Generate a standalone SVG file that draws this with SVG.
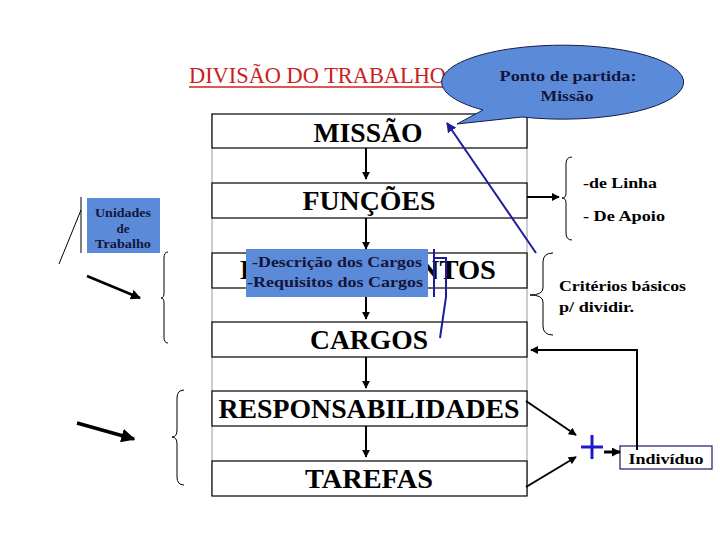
<svg xmlns="http://www.w3.org/2000/svg" width="720" height="540" viewBox="0 0 720 540">
<defs>
<style>
text{font-family:"Liberation Serif","Times New Roman","DejaVu Serif",serif}
.bx{fill:#fff;stroke:#000;stroke-width:1.2}
.bt{font-weight:bold;font-size:28px;fill:#000;text-anchor:middle}
.sm{font-weight:bold;font-size:15px;fill:#000}
.nv{font-weight:bold;fill:#14143c}
.blue{fill:#5b8bd8}
.ln{stroke:#000;fill:none}
.br{stroke:#000;fill:none;stroke-width:1}
.bl{stroke:#1c1c9c;fill:none;stroke-width:2}
</style>
<marker id="ah" viewBox="0 0 10 10" refX="9" refY="5" markerWidth="4" markerHeight="4" orient="auto" markerUnits="strokeWidth"><path d="M0,0 L10,5 L0,10 z" fill="#000"/></marker>
<marker id="ahs" viewBox="0 0 10 10" refX="9" refY="5" markerWidth="3" markerHeight="3" orient="auto" markerUnits="strokeWidth"><path d="M0,0 L10,5 L0,10 z" fill="#000"/></marker>
<marker id="ahb" viewBox="0 0 10 10" refX="9" refY="5" markerWidth="5" markerHeight="5" orient="auto" markerUnits="strokeWidth"><path d="M0,0 L10,5 L0,10 z" fill="#1c1c9c"/></marker>
</defs>
<rect width="720" height="540" fill="#fff"/>

<g id="title">
<text x="189" y="83" font-size="24" fill="#cc2020" textLength="257" lengthAdjust="spacingAndGlyphs">DIVISÃO DO TRABALHO</text>
<line x1="189" y1="87" x2="446" y2="87" stroke="#cc2020" stroke-width="1.5"/>
</g>

<g id="frame">
<line x1="212" y1="114" x2="212" y2="496" stroke="#aaa" stroke-width="1.2"/>
<line x1="527" y1="114" x2="527" y2="496" stroke="#aaa" stroke-width="1.2"/>
</g>

<g id="missao"><rect class="bx" x="212" y="114" width="315" height="34"/><text class="bt" x="368" y="142" textLength="109" lengthAdjust="spacingAndGlyphs">MISSÃO</text></g>
<g id="funcoes"><rect class="bx" x="212" y="183" width="315" height="35"/><text class="bt" x="369" y="210" textLength="133" lengthAdjust="spacingAndGlyphs">FUNÇÕES</text></g>
<g id="departamentos"><rect class="bx" x="212" y="253" width="315" height="35"/><text class="bt" x="368" y="279" textLength="256" lengthAdjust="spacingAndGlyphs">DEPARTAMENTOS</text></g>
<g id="cargos"><rect class="bx" x="212" y="322" width="315" height="35"/><text class="bt" x="369" y="349" textLength="118" lengthAdjust="spacingAndGlyphs">CARGOS</text></g>
<g id="responsabilidades"><rect class="bx" x="212" y="391" width="315" height="35"/><text class="bt" x="369" y="418" textLength="301" lengthAdjust="spacingAndGlyphs">RESPONSABILIDADES</text></g>
<g id="tarefas"><rect class="bx" x="212" y="461" width="315" height="35"/><text class="bt" x="369" y="488" textLength="128" lengthAdjust="spacingAndGlyphs">TAREFAS</text></g>

<g id="descricao">
<rect class="blue" x="246" y="249" width="182" height="48"/>
<text class="nv" x="252" y="267" font-size="15" textLength="170" lengthAdjust="spacingAndGlyphs">-Descrição dos Cargos</text>
<text class="nv" x="247" y="287" font-size="15" textLength="176" lengthAdjust="spacingAndGlyphs">-Requisitos dos Cargos</text>
</g>

<g id="callout">
<path d="M483,110 L457,124 L522,117 A121,37 0 1 0 483,110 Z" class="blue" stroke="#1a1a4a" stroke-width="1"/>
<text class="nv" x="568" y="81" font-size="15" text-anchor="middle" textLength="137" lengthAdjust="spacingAndGlyphs">Ponto de partida:</text>
<text class="nv" x="567" y="101" font-size="15" text-anchor="middle" textLength="53" lengthAdjust="spacingAndGlyphs">Missão</text>
</g>

<g id="unidades">
<rect class="blue" x="87" y="198" width="73" height="55"/>
<text class="nv" x="123" y="217" font-size="13" text-anchor="middle" textLength="56" lengthAdjust="spacingAndGlyphs">Unidades</text>
<text class="nv" x="123" y="233" font-size="13" text-anchor="middle">de</text>
<text class="nv" x="123" y="248" font-size="13" text-anchor="middle" textLength="56" lengthAdjust="spacingAndGlyphs">Trabalho</text>
</g>

<g id="linha-apoio">
<text class="sm" x="583" y="188" textLength="74" lengthAdjust="spacingAndGlyphs">-de Linha</text>
<text class="sm" x="583" y="221" textLength="82" lengthAdjust="spacingAndGlyphs">- De Apoio</text>
</g>

<g id="criterios">
<text class="sm" x="559" y="291" textLength="127" lengthAdjust="spacingAndGlyphs">Critérios básicos</text>
<text class="sm" x="559" y="312" textLength="75" lengthAdjust="spacingAndGlyphs">p/ dividir.</text>
</g>

<g id="individuo">
<rect x="620" y="446" width="92" height="23" fill="#fff" stroke="#1a1a6a" stroke-width="1.2"/>
<text class="sm" x="666" y="464" text-anchor="middle" textLength="75" lengthAdjust="spacingAndGlyphs">Indivíduo</text>
</g>

<g id="plus">
<line x1="581" y1="447" x2="603" y2="447" stroke="#1a1acc" stroke-width="3"/>
<line x1="592" y1="435" x2="592" y2="459" stroke="#1a1acc" stroke-width="3"/>
</g>

<g id="connectors">
<line class="ln" x1="366" y1="148" x2="366" y2="179" stroke-width="2" marker-end="url(#ah)"/>
<line class="ln" x1="366" y1="218" x2="366" y2="249" stroke-width="2" marker-end="url(#ah)"/>
<line class="ln" x1="366" y1="297" x2="366" y2="319" stroke-width="2" marker-end="url(#ah)"/>
<line class="ln" x1="366" y1="357" x2="366" y2="388" stroke-width="2" marker-end="url(#ah)"/>
<line class="ln" x1="366" y1="426" x2="366" y2="457" stroke-width="2" marker-end="url(#ah)"/>

<line class="ln" x1="527" y1="197" x2="559" y2="197" stroke-width="2" marker-end="url(#ah)"/>
<line class="bl" x1="536" y1="253" x2="447" y2="123" marker-end="url(#ahb)"/>
<path class="bl" d="M434,249 L434,297 M434,258 L446,258 L446,297 L440,338"/>

<polyline class="ln" points="637,450 637,350 531,350" stroke-width="2" marker-end="url(#ah)"/>
<line class="ln" x1="526" y1="401" x2="576" y2="435" stroke-width="2" marker-end="url(#ah)"/>
<line class="ln" x1="526" y1="487" x2="576" y2="457" stroke-width="2" marker-end="url(#ah)"/>
<line class="ln" x1="604" y1="452" x2="620" y2="452" stroke-width="3" marker-end="url(#ahs)"/>

<line class="ln" x1="81" y1="197" x2="81" y2="253" stroke-width="1"/>
<line class="ln" x1="81" y1="210" x2="59" y2="264" stroke-width="1"/>
<line class="ln" x1="87" y1="276" x2="140" y2="298" stroke-width="2.5" marker-end="url(#ah)"/>
<line class="ln" x1="77" y1="423" x2="134" y2="439" stroke-width="3.5" marker-end="url(#ah)"/>

<path class="br" d="M168,252 Q164,252 164,258 L164,293 Q164,298 161,298 Q164,298 164,303 L164,337 Q164,343 168,343"/>
<path class="br" d="M184,390 Q177,390 177,398 L177,430 Q177,437 172,437 Q177,437 177,444 L177,477 Q177,485 184,485"/>
<path class="br" d="M572,157 Q566,157 566,164 L566,193 Q566,198 562,198 Q566,198 566,203 L566,233 Q566,240 572,240"/>
<path class="br" d="M553,253 Q543,253 543,262 L543,288 Q543,295 530,295 Q543,295 543,302 L543,326 Q543,335 553,335"/>
</g>
</svg>
